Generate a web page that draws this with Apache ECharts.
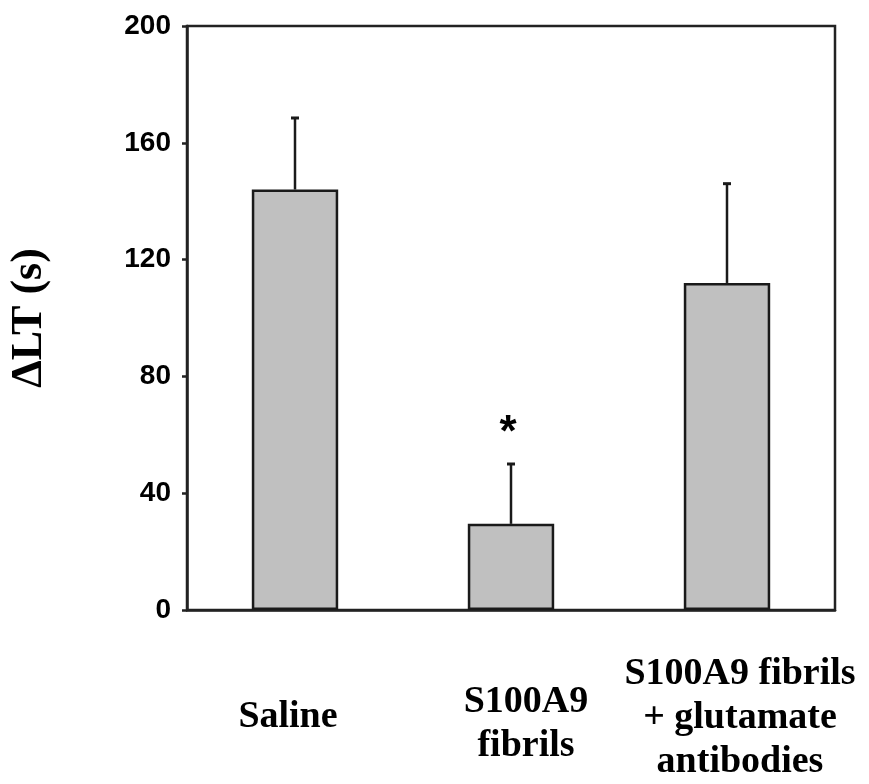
<!DOCTYPE html>
<html>
<head>
<meta charset="utf-8">
<script src="https://cdn.jsdelivr.net/npm/echarts@6/dist/echarts.min.js"></script>
<style>
html,body{margin:0;padding:0;background:#fff;}
#chart{width:869px;height:784px;}
</style>
</head>
<body>
<div id="chart"></div>
<script>
const categories = ['Saline', 'S100A9\nfibrils', 'S100A9 fibrils\n+ glutamate\nantibodies'];
const means = [144, 29.5, 112];
const errUpper = [168.5, 50, 146];
const sigMarks = ['', '*', ''];
const yTicks = [0, 40, 80, 120, 160, 200];

const labelPads = [[43, 14, 0, 0], [28, 0, 0, 30], [0, 0, 0, 26]];

const chart = echarts.init(document.getElementById('chart'));
const errData = means.map((m, i) => [i, m, errUpper[i], sigMarks[i]]);

chart.setOption({
  animation: false,
  grid: {left: 187, right: 34, top: 26, bottom: 174, outerBoundsMode: 'none', containLabel: false, show: true, borderColor: '#222', borderWidth: 2.5, backgroundColor: 'transparent'},
  xAxis: {
    type: 'category',
    data: categories.map((c, i) => ({value: c, textStyle: {padding: labelPads[i]}})),
    axisLine: {lineStyle: {color: '#222', width: 2.5}},
    axisTick: {show: false},
    axisLabel: {
      interval: 0,
      margin: 42,
      verticalAlign: 'top',
      fontFamily: '"Liberation Serif", "Times New Roman", serif',
      fontWeight: 'bold',
      fontSize: 38,
      lineHeight: 44,
      color: '#000'
    }
  },
  yAxis: {
    type: 'value',
    min: yTicks[0],
    max: yTicks[yTicks.length - 1],
    interval: 40,
    name: 'ΔLT (s)',
    nameLocation: 'middle',
    nameGap: 135,
    nameTextStyle: {fontFamily: '"Liberation Serif", "Times New Roman", serif', fontWeight: 'bold', fontSize: 44, color: '#000'},
    axisLine: {show: true, lineStyle: {color: '#222', width: 2.5}},
    axisTick: {show: true, length: 5, inside: false, lineStyle: {color: '#222', width: 2.5}},
    splitLine: {show: false},
    axisLabel: {
      margin: 16,
      fontFamily: '"Liberation Sans", Arial, sans-serif',
      fontWeight: 'bold',
      fontSize: 28,
      color: '#000'
    }
  },
  series: [
    {
      type: 'bar',
      data: means,
      barWidth: '40%',
      itemStyle: {color: '#c0c0c0', borderColor: '#1a1a1a', borderWidth: 2.5},
      z: 2
    },
    {
      type: 'custom',
      data: errData,
      z: 3,
      renderItem: function (params, api) {
        const x = api.value(0);
        const base = api.coord([x, api.value(1)]);
        const top = api.coord([x, api.value(2)]);
        const mark = sigMarks[params.dataIndex];
        const children = [
          {type: 'line', shape: {x1: base[0], y1: base[1], x2: top[0], y2: top[1]}, style: {stroke: '#1a1a1a', lineWidth: 2.5}},
          {type: 'line', shape: {x1: top[0] - 4, y1: top[1], x2: top[0] + 4, y2: top[1]}, style: {stroke: '#1a1a1a', lineWidth: 3}}
        ];
        if (mark) {
          children.push({type: 'text', style: {text: mark, x: top[0] - 3, y: top[1] - 30, align: 'center', verticalAlign: 'middle', font: 'bold 44px "Liberation Sans", Arial, sans-serif', fill: '#000'}});
        }
        return {type: 'group', children: children};
      }
    }
  ]
});
</script>
</body>
</html>
